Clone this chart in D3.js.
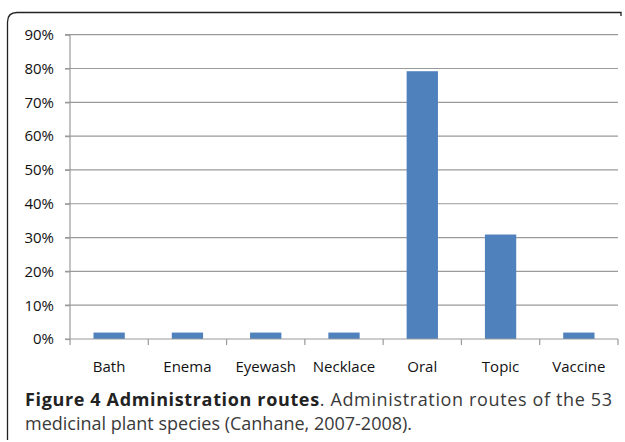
<!DOCTYPE html>
<html>
<head>
<meta charset="utf-8">
<script src="https://cdn.jsdelivr.net/npm/d3@7"></script>
<style>
  body { margin: 0; background: #fff; }
  text { font-family: "Open Sans", sans-serif; }
</style>
</head>
<body>
<div id="chart"></div>
<script>
var svgWidth = 625;
var svgHeight = 442;

// data
var routes = ["Bath", "Enema", "Eyewash", "Necklace", "Oral", "Topic", "Vaccine"];
var shares = [0.019, 0.019, 0.019, 0.019, 0.792, 0.309, 0.019];
var yTicks = [0, 0.1, 0.2, 0.3, 0.4, 0.5, 0.6, 0.7, 0.8, 0.9];

var margin = { top: 34.7, right: 7, bottom: 103, left: 70 };
var width = svgWidth - margin.left - margin.right;
var height = svgHeight - margin.top - margin.bottom;

var svg = d3.select("#chart")
  .append("svg")
  .attr("width", svgWidth)
  .attr("height", svgHeight);

// frame round the figure
svg.append("path")
  .attr("d", "M7.5,440 V22 Q7.5,12.5 17,12.5 H621 V16")
  .attr("fill", "none")
  .attr("stroke", "#222")
  .attr("stroke-width", 1.3);

var chartGroup = svg.append("g")
  .attr("transform", `translate(${margin.left}, ${margin.top})`);

var xBandScale = d3.scaleBand()
  .domain(routes)
  .range([0, width])
  .paddingInner(0.6)
  .paddingOuter(0.3);

var yLinearScale = d3.scaleLinear()
  .domain([0, 0.9])
  .range([height, 0]);

// gridlines
chartGroup.append("g")
  .selectAll("line")
  .data(yTicks.slice(1))
  .enter()
  .append("line")
  .attr("x1", -5)
  .attr("x2", width)
  .attr("y1", d => yLinearScale(d))
  .attr("y2", d => yLinearScale(d))
  .attr("stroke", "#9a9a9a")
  .attr("stroke-width", 1.2);

// y axis
var leftAxis = d3.axisLeft(yLinearScale)
  .tickValues(yTicks)
  .tickFormat(d3.format(".0%"))
  .tickSize(5)
  .tickPadding(11);

var yAxis = chartGroup.append("g").call(leftAxis);
yAxis.attr("font-size", null).attr("font-family", null);
yAxis.select(".domain").attr("stroke", "#9a9a9a").attr("stroke-width", 1.2).attr("d", `M0,0V${height}`);
yAxis.selectAll(".tick line").attr("stroke", "#9a9a9a").attr("stroke-width", 1.2);
yAxis.selectAll("text")
  .style("font-size", "15px")
  .attr("fill", "#111");

// bars
chartGroup.selectAll("rect")
  .data(routes)
  .enter()
  .append("rect")
  .attr("x", d => xBandScale(d))
  .attr("width", xBandScale.bandwidth())
  .attr("y", (d, i) => yLinearScale(shares[i]))
  .attr("height", (d, i) => height - yLinearScale(shares[i]))
  .attr("fill", "#4f81bd");

// x axis with ticks between categories
var bounds = d3.range(routes.length + 1).map(i => i * width / routes.length);
var xAxis = chartGroup.append("g").attr("transform", `translate(0, ${height})`);
xAxis.append("line")
  .attr("x1", -5)
  .attr("x2", width)
  .attr("stroke", "#9a9a9a")
  .attr("stroke-width", 1.2);
xAxis.selectAll(".tk")
  .data(bounds)
  .enter()
  .append("line")
  .attr("class", "tk")
  .attr("x1", d => d)
  .attr("x2", d => d)
  .attr("y1", 0)
  .attr("y2", 6)
  .attr("stroke", "#9a9a9a")
  .attr("stroke-width", 1.2);
xAxis.selectAll("text")
  .data(routes)
  .enter()
  .append("text")
  .attr("x", d => xBandScale(d) + xBandScale.bandwidth() / 2)
  .attr("y", 33)
  .attr("text-anchor", "middle")
  .style("font-size", "15px")
  .attr("fill", "#111")
  .text(d => d);

// caption
var cap1 = svg.append("text")
  .attr("x", 25)
  .attr("y", 406)
  .attr("textLength", 587)
  .attr("lengthAdjust", "spacing")
  .style("font-size", "18px")
  .attr("fill", "#3a3a3a");
cap1.append("tspan")
  .style("font-weight", "bold")
  .attr("fill", "#222")
  .text("Figure 4 Administration routes");
cap1.append("tspan").text(". Administration routes of the 53");

svg.append("text")
  .attr("x", 25)
  .attr("y", 430)
  .style("font-size", "18px")
  .attr("fill", "#3a3a3a")
  .text("medicinal plant species (Canhane, 2007-2008).");
</script>
</body>
</html>
